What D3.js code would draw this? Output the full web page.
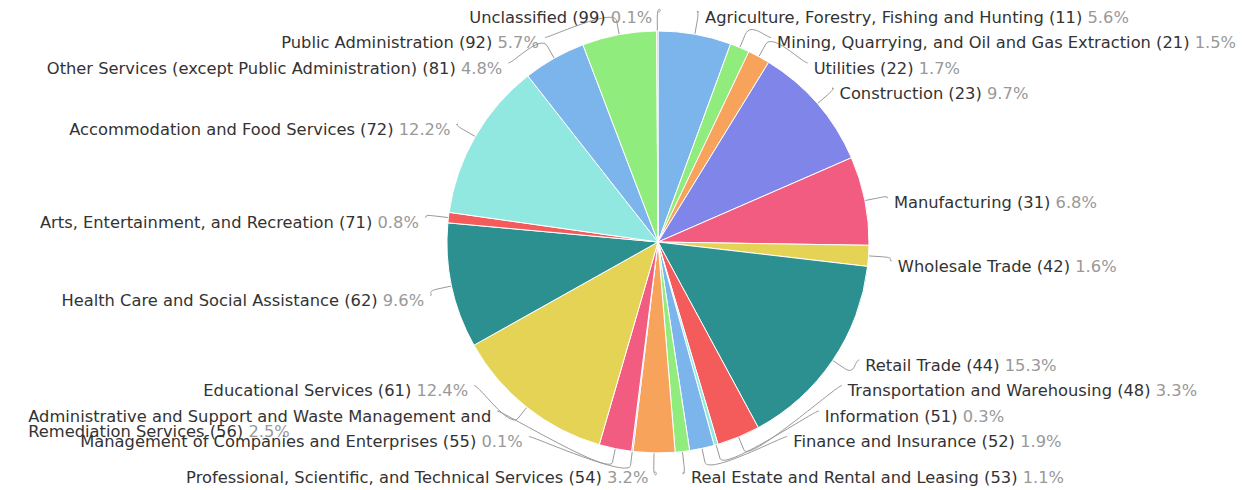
<!DOCTYPE html>
<html lang="en">
<meta charset="UTF-8">
<title>Industry Share Pie</title>
<script src="https://d3js.org/d3.v7.min.js"></script>
<style>
body { margin: 0; background: #fff; }
svg text { font-family: "DejaVu Sans", sans-serif; font-size: 16.3px; }
.name { fill: #333; }
.pct { fill: #999; }
.slice { stroke: #fff; stroke-width: 1; }
.connector { fill: none; stroke: #999; stroke-width: 1; }
</style>
<body>
<svg width="1244" height="490"></svg>
<script>
// industry sectors, clockwise from 12 o'clock
const names = [
  'Agriculture, Forestry, Fishing and Hunting',
  'Mining, Quarrying, and Oil and Gas Extraction',
  'Utilities',
  'Construction',
  'Manufacturing',
  'Wholesale Trade',
  'Retail Trade',
  'Transportation and Warehousing',
  'Information',
  'Finance and Insurance',
  'Real Estate and Rental and Leasing',
  'Professional, Scientific, and Technical Services',
  'Management of Companies and Enterprises',
  'Administrative and Support and Waste Management and Remediation Services',
  'Educational Services',
  'Health Care and Social Assistance',
  'Arts, Entertainment, and Recreation',
  'Accommodation and Food Services',
  'Other Services (except Public Administration)',
  'Public Administration',
  'Unclassified'
];
const codes = [11, 21, 22, 23, 31, 42, 44, 48, 51, 52, 53, 54, 55, 56, 61, 62, 71, 72, 81, 92, 99];
const shares = [5.6, 1.5, 1.7, 9.7, 6.8, 1.6, 15.3, 3.3, 0.3, 1.9, 1.1, 3.2, 0.1, 2.5, 12.4, 9.6, 0.8, 12.2, 4.8, 5.7, 0.1];
const colors = ['#7cb5ec', '#90ed7d', '#f7a35c', '#8085e9', '#f15c80', '#e4d354', '#2b908f', '#f45b5b', '#91e8e1'];

const svg = d3.select('svg');
const CX = 658, CY = 242, R = 211;
const DIST = 30, RL = R + DIST;
const BOX = 25.5, TOP = 17, BOTTOM = 467, LINE = 15;

const pie = d3.pie().sort(null).value(i => shares[i]);
const arc = d3.arc().innerRadius(0).outerRadius(R);
const arcs = pie(d3.range(names.length));

const g = svg.append('g').attr('transform', `translate(${CX},${CY})`);
g.selectAll('path.slice').data(arcs)
  .enter().append('path')
    .attr('class', 'slice')
    .attr('fill', d => colors[d.index % colors.length])
    .attr('d', arc);

// label placement, roughly the way highcharts spreads pie labels
const labels = arcs.map(a => {
  const mid = (a.startAngle + a.endAngle) / 2;
  return {
    i: a.index,
    mid,
    left: mid > Math.PI,
    target: CY - RL * Math.cos(mid) + 8,
    natX: CX + RL * Math.sin(mid)
  };
});

function distribute(items) {
  let boxes = items.map(d => ({targets: [d.target], items: [d], size: BOX}));
  let overlapping = true;
  while (overlapping) {
    boxes.forEach(b => {
      const t = (d3.min(b.targets) + d3.max(b.targets)) / 2;
      b.pos = Math.max(TOP - BOX / 2, Math.min(t - b.size / 2, BOTTOM + BOX / 2 - b.size));
    });
    overlapping = false;
    for (let i = boxes.length - 1; i > 0; i--) {
      const a = boxes[i - 1], b = boxes[i];
      if (a.pos + a.size > b.pos + 0.001) {
        a.size += b.size;
        a.targets = a.targets.concat(b.targets);
        a.items = a.items.concat(b.items);
        boxes.splice(i, 1);
        overlapping = true;
      }
    }
  }
  boxes.forEach(b => b.items.forEach((d, j) => { d.y = b.pos + BOX / 2 + j * BOX; }));
}

[true, false].forEach(side => {
  const items = labels.filter(d => d.left === side).sort((a, b) => a.target - b.target);
  distribute(items);
});

labels.forEach(d => {
  const atTop = Math.abs(d.y - TOP) < 0.01;
  const atBottom = Math.abs(d.y - BOTTOM) < 0.01;
  if (atBottom) d.y += 10;
  if (atTop || atBottom) {
    d.x = d.natX + (d.left ? -5 : 5);
  } else {
    const ay = d.y - (d.y < CY ? 10 : 0);
    const dy = Math.max(-RL, Math.min(RL, ay - CY));
    d.x = CX + (d.left ? -1 : 1) * Math.sqrt(RL * RL - dy * dy);
  }
});

// measuring helper
const measurer = svg.append('text').attr('class', 'name').attr('visibility', 'hidden');
const widthOf = s => { measurer.text(s); return measurer.node().getComputedTextLength(); };

const labelG = svg.append('g');
labels.forEach(d => {
  const words = `${names[d.i]} (${codes[d.i]})`.split(' ');
  const pct = shares[d.i].toFixed(1) + '%';
  const avail = d.left ? d.x - 5 : 1244 - d.x;
  // greedy wrap, pct stays with the last line
  const lines = [];
  let cur = [];
  words.concat([pct]).forEach(w => {
    const test = cur.concat([w]).join(' ');
    if (cur.length && widthOf(test) > avail) {
      lines.push(cur);
      cur = [w];
    } else {
      cur.push(w);
    }
  });
  lines.push(cur);

  const texts = lines.map((ln, k) => {
    const t = labelG.append('text')
      .attr('y', d.y + k * LINE)
      .attr('dy', '0.35em');
    const hasPct = k === lines.length - 1;
    const namePart = hasPct ? ln.slice(0, -1) : ln;
    if (namePart.length) t.append('tspan').attr('class', 'name').text(namePart.join(' ') + (hasPct ? ' ' : ''));
    if (hasPct) t.append('tspan').attr('class', 'pct').text(pct);
    return t;
  });
  const boxW = d3.max(texts, t => t.node().getComputedTextLength());
  texts.forEach(t => t.attr('x', d.left ? d.x - boxW : d.x));

  // connector: label -> bend point just outside the slice -> slice edge
  const sx = Math.sin(d.mid), sy = -Math.cos(d.mid);
  const touch = [CX + R * sx, CY + R * sy];
  const brk = [CX + (R + 14) * sx, CY + (R + 14) * sy];
  const lx = d.x + (d.left ? 6 : -6), ly = d.y - 5;
  const path = d3.path();
  path.moveTo(lx, ly);
  path.bezierCurveTo(lx + (d.left ? 5 : -5), ly, 2 * brk[0] - touch[0], 2 * brk[1] - touch[1], brk[0], brk[1]);
  path.lineTo(touch[0], touch[1]);
  svg.insert('path', 'g').attr('class', 'connector').attr('d', path.toString());
});
measurer.remove();
</script>
</body>
</html>
